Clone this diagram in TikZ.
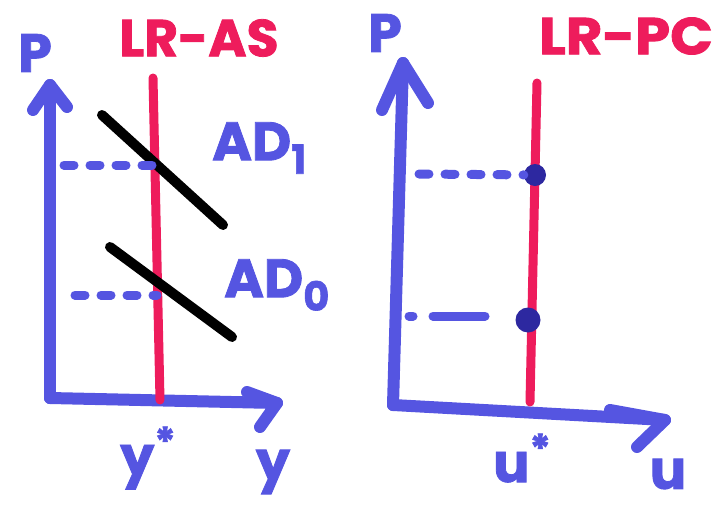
\documentclass[tikz,border=0pt]{standalone}
\usepackage{fontspec}
\setmainfont{Poppins}[BoldFeatures={FakeBold=1.5}]
\usetikzlibrary{arrows.meta}
\definecolor{mblue}{RGB}{85,85,225}
\definecolor{mred}{RGB}{238,28,92}
\definecolor{mdot}{RGB}{45,40,160}
\tikzset{
  axis/.style={draw=mblue,line width=12pt,line cap=round,line join=round},
  redline/.style={draw=mred,line width=9pt,line cap=round},
  adline/.style={draw=black,line width=10pt,line cap=round},
  guide/.style={draw=mblue,line width=9pt,line cap=round,dash pattern=on 10pt off 16pt},
  lbl/.style={text=mblue,font=\bfseries\fontsize{54}{54}\selectfont,inner sep=0pt},
  rlbl/.style={text=mred,font=\bfseries\fontsize{52}{52}\selectfont,inner sep=0pt},
  dotst/.style={circle,fill=mdot,inner sep=0pt,minimum size=22pt}
}
\begin{document}
\begin{tikzpicture}[x=1pt,y=-1pt]
\useasboundingbox (0,0) rectangle (716,512);
% ---------- left graph ----------
\coordinate (o1) at (50,398);
\coordinate (yt1) at (50,85);
\coordinate (xt1) at (277,403);
\draw[axis] (o1) -- (yt1);
\draw[axis] (o1) -- (xt1);
\draw[axis] (33,110) -- (yt1) -- (67,107);
\draw[axis] (247,392) -- (xt1) -- (260,427);
\coordinate (r1t) at (153,78);
\coordinate (r1b) at (160,400);
\draw[redline] (r1t) -- (r1b);
\coordinate (ad1a) at (102,115);
\coordinate (ad1b) at (223,225);
\coordinate (ad0a) at (110,247);
\coordinate (ad0b) at (232,337);
\draw[adline] (ad1a) -- (ad1b);
\draw[adline] (ad0a) -- (ad0b);
\coordinate (g1a) at (64,165);
\coordinate (g1b) at (155,165);
\coordinate (g2a) at (75,295);
\coordinate (g2b) at (157,295);
\draw[guide] (g1a) -- (g1b);
\draw[guide] (g2a) -- (g2b);
\node[lbl] (p1) at (35,53) {P};
\node[rlbl] (lras) at (199,38) {LR-AS};
\node[lbl,anchor=west] (ad1) at (212,148) {AD\raisebox{-0.25em}{\fontsize{40}{40}\selectfont 1}};
\node[lbl,anchor=west] (ad0) at (224,285) {AD\raisebox{-0.25em}{\fontsize{40}{40}\selectfont 0}};
\node[lbl] (ys) at (148,458) {y\raisebox{0.35em}{\fontsize{40}{40}\selectfont *}};
\node[lbl] (yl) at (273,472) {y};
% ---------- right graph ----------
\coordinate (o2) at (393,405);
\coordinate (yt2) at (403,63);
\coordinate (xt2) at (665,420);
\draw[axis] (o2) -- (yt2);
\draw[axis] (o2) -- (xt2);
\draw[axis] (382,110) -- (yt2) -- (428,103);
\draw[axis] (610,410) -- (xt2) -- (637,447);
\coordinate (r2t) at (537,83);
\coordinate (r2b) at (530,402);
\draw[redline] (r2t) -- (r2b);
\node[dotst] (d1) at (535,175) {};
\node[dotst,minimum size=25pt] (d2) at (528,320) {};
\coordinate (g3a) at (419,174);
\coordinate (g4a) at (409,316);
\coordinate (g4b) at (485,316);
\draw[guide] (g3a) -- (d1);
\draw[guide,dash pattern=on 4pt off 20pt on 52pt off 100pt] (g4a) -- (g4b);
\node[lbl] (p2) at (385,33) {P};
\node[rlbl,xscale=1.08] (lrpc) at (626,36) {LR-PC};
\node[lbl] (us) at (522,458) {u\raisebox{0.35em}{\fontsize{40}{40}\selectfont *}};
\node[lbl] (ul) at (668,474) {u};
\end{tikzpicture}
\end{document}
